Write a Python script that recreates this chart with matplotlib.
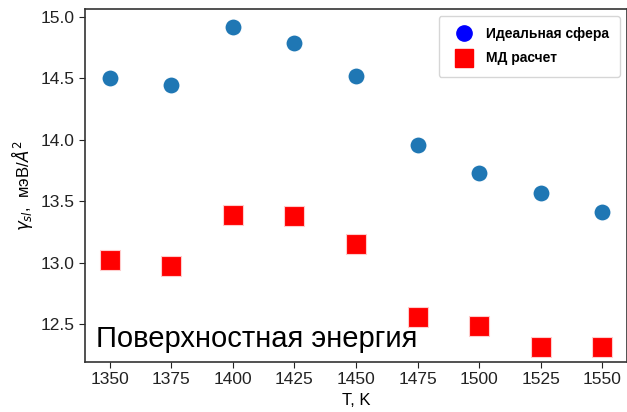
import matplotlib
matplotlib.use("Agg")
import matplotlib.pyplot as plt
from matplotlib.lines import Line2D

plt.rcParams["font.family"] = ["Liberation Sans", "DejaVu Sans"]

T = [1350, 1375, 1400, 1425, 1450, 1475, 1500, 1525, 1550]
ideal = [14.50, 14.45, 14.92, 14.79, 14.52, 13.96, 13.73, 13.57, 13.41]
md = [13.02, 12.97, 13.39, 13.38, 13.15, 12.56, 12.48, 12.31, 12.31]

fig = plt.figure(figsize=(6.27, 4.12), dpi=100)
ax = fig.add_axes([85 / 627, 50 / 412, 542 / 627, 353 / 412])

ax.scatter(T, ideal, s=150, color="#1f77b4", edgecolor="white", linewidth=0.8, zorder=3)
ax.scatter(T, md, s=220, marker="s", color="red", edgecolor="#ffcccc", linewidth=0.8, zorder=3)

for sp in ax.spines.values():
    sp.set_color("#333333")
    sp.set_linewidth(1.2)

ax.set_xlim(1340, 1560)
ax.set_ylim(12.19, 15.065)
ax.set_xticks(T)
ax.set_yticks([12.5, 13.0, 13.5, 14.0, 14.5, 15.0])
ax.tick_params(labelsize=12.5, colors="#222222", length=4)
ax.set_xlabel("T, K", fontsize=12)
ax.set_ylabel(r"$\gamma_{sl}$,  мэВ/$\AA^2$", fontsize=12)

ax.text(0.02, 0.025, "Поверхностная энергия", transform=ax.transAxes,
        fontsize=21, ha="left", va="bottom")

handles = [
    Line2D([], [], marker="o", color="blue", linestyle="", markersize=11),
    Line2D([], [], marker="s", color="red", linestyle="", markersize=13),
]
leg = ax.legend(handles, ["Идеальная сфера", "МД расчет"], loc="upper right",
                prop={"weight": "bold", "size": 10}, borderaxespad=0.5,
                borderpad=0.8, labelspacing=0.75, handletextpad=0.6)

fig.savefig("out.png", dpi=100)
